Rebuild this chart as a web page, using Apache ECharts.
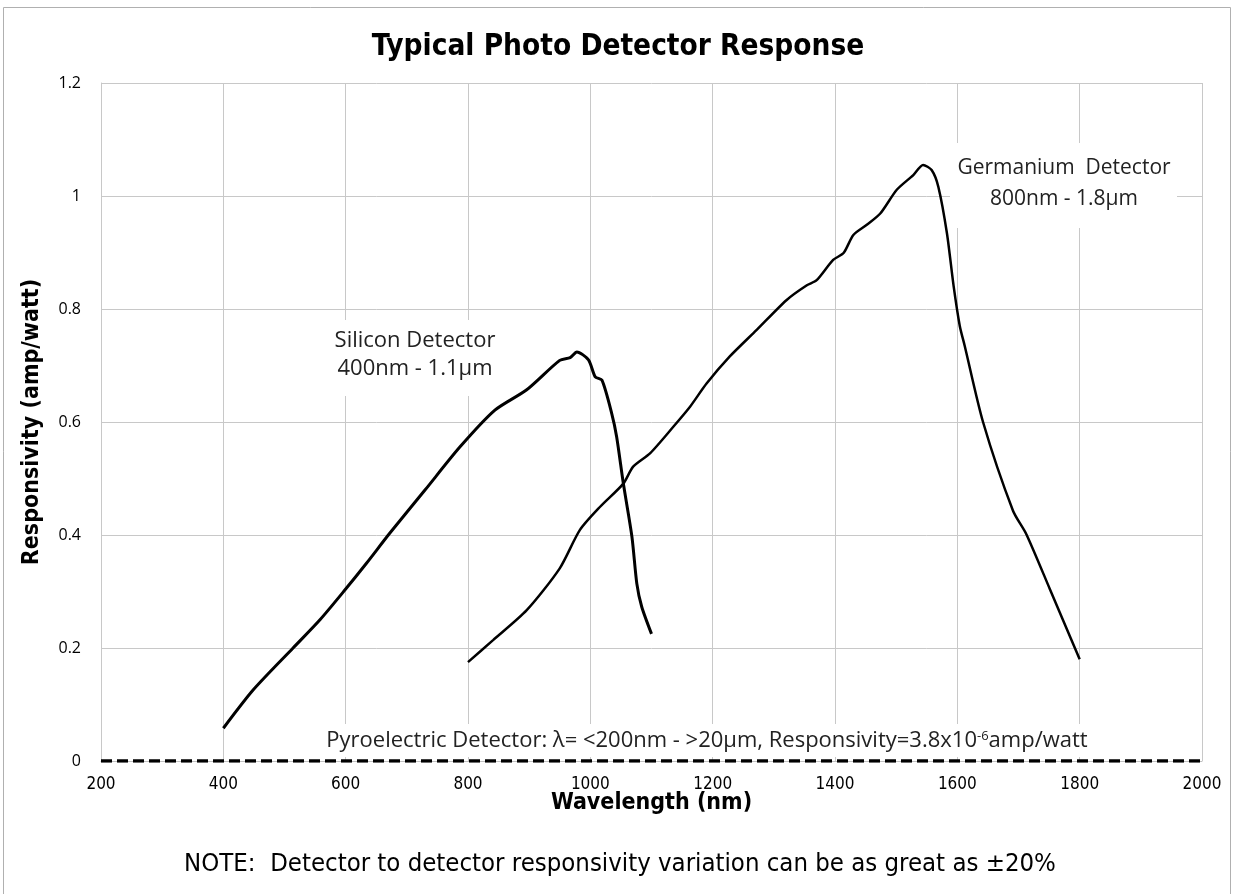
<!DOCTYPE html>
<html>
<head>
<meta charset="utf-8">
<script src="https://cdn.jsdelivr.net/npm/echarts@6/dist/echarts.min.js"></script>
<style>
  html, body { margin: 0; padding: 0; background: #fff; }
  #chart { width: 1236px; height: 894px; }
</style>
</head>
<body>
<div id="chart"></div>
<script>
// Wavelength (nm) and responsivity (amp/watt) for each detector type
const siliconWavelength = [400, 449, 514, 558, 599, 634, 672, 730, 787, 844, 896, 950, 967, 978, 997, 1008, 1019, 1035, 1043, 1054, 1068, 1076, 1084, 1100];
const siliconResponse   = [0.058, 0.126, 0.200, 0.250, 0.303, 0.350, 0.403, 0.480, 0.556, 0.621, 0.657, 0.709, 0.714, 0.724, 0.710, 0.680, 0.674, 0.615, 0.574, 0.491, 0.397, 0.314, 0.273, 0.225];

const germaniumWavelength = [800, 841, 896, 950, 983, 1016, 1054, 1070, 1098, 1136, 1163, 1190, 1228, 1272, 1321, 1354, 1370, 1397, 1414, 1430, 1452, 1474, 1501, 1528, 1544, 1558, 1569, 1583, 1594, 1604, 1612, 1642, 1691, 1713, 1751, 1800];
const germaniumResponse   = [0.175, 0.214, 0.267, 0.341, 0.409, 0.450, 0.491, 0.521, 0.545, 0.592, 0.627, 0.668, 0.716, 0.763, 0.816, 0.842, 0.851, 0.887, 0.899, 0.931, 0.949, 0.969, 1.011, 1.037, 1.055, 1.046, 1.016, 0.934, 0.840, 0.770, 0.735, 0.600, 0.443, 0.401, 0.305, 0.180];

// Pyroelectric responsivity is effectively zero on this scale
const pyroWavelength = [200, 2000];
const pyroResponse   = [0, 0];

const xTicks = [200, 400, 600, 800, 1000, 1200, 1400, 1600, 1800, 2000];
const yTicks = [0, 0.2, 0.4, 0.6, 0.8, 1, 1.2];

const zip = (xs, ys) => xs.map((x, i) => [x, ys[i]]);

const condensed = "'Liberation Sans Narrow', 'DejaVu Sans Condensed', 'Liberation Sans', sans-serif";
const body = "'Open Sans', 'Noto Sans', sans-serif";

const chart = echarts.init(document.getElementById('chart'), null, { renderer: 'canvas' });

chart.setOption({
  backgroundColor: '#ffffff',
  animation: false,
  title: {
    text: 'Typical Photo Detector Response',
    left: 'center',
    top: 27,
    textStyle: { fontFamily: condensed, fontWeight: 'bold', fontSize: 29.5, color: '#000' }
  },
  grid: { left: 101, right: 34, top: 83, bottom: 133, containLabel: false },
  xAxis: {
    type: 'value',
    min: xTicks[0],
    max: xTicks[xTicks.length - 1],
    interval: xTicks[1] - xTicks[0],
    name: 'Wavelength (nm)',
    nameLocation: 'middle',
    nameGap: 31,
    nameMoveOverlap: false,
    nameTextStyle: { fontFamily: condensed, fontWeight: 'bold', fontSize: 23, color: '#000' },
    axisLine: { show: true, lineStyle: { color: '#bfbfbf', width: 1 } },
    axisTick: { show: false },
    axisLabel: { margin: 15, fontFamily: condensed, fontSize: 17, color: '#000', formatter: v => String(v) },
    splitLine: { show: true, lineStyle: { color: '#c8c8c8', width: 1 } }
  },
  yAxis: {
    type: 'value',
    min: yTicks[0],
    max: yTicks[yTicks.length - 1],
    interval: 0.2,
    name: 'Responsivity (amp/watt)',
    nameLocation: 'middle',
    nameGap: 57,
    nameTextStyle: { fontFamily: condensed, fontWeight: 'bold', fontSize: 23, color: '#000' },
    axisLine: { show: true, lineStyle: { color: '#c8c8c8', width: 1 } },
    axisTick: { show: false },
    axisLabel: { margin: 20, fontFamily: body, fontSize: 16, color: '#000',
      formatter: v => (Math.round(v * 10) / 10).toString() },
    splitLine: { show: true, lineStyle: { color: '#c8c8c8', width: 1 } }
  },
  series: [
    {
      name: 'Silicon Detector',
      type: 'line',
      data: zip(siliconWavelength, siliconResponse),
      showSymbol: false,
      smooth: 0.25,
      lineStyle: { color: '#000', width: 3 },
      z: 3
    },
    {
      name: 'Germanium Detector',
      type: 'line',
      data: zip(germaniumWavelength, germaniumResponse),
      showSymbol: false,
      smooth: 0.25,
      lineStyle: { color: '#000', width: 2.5 },
      z: 3
    },
    {
      name: 'Pyroelectric Detector',
      type: 'line',
      data: zip(pyroWavelength, pyroResponse),
      showSymbol: false,
      lineStyle: { color: '#000', width: 3.5, type: [11, 5] },
      z: 4
    }
  ],
  graphic: [
    // outer frame
    { type: 'rect', shape: { x: 3.5, y: 7.5, width: 1227, height: 900 }, style: { fill: 'none', stroke: '#b0b0b0', lineWidth: 1 }, z: 0, silent: true },
    // annotation boxes
    { type: 'rect', shape: { x: 326, y: 320, width: 178, height: 76 }, style: { fill: '#fff' }, z: 1, silent: true },
    { type: 'text', x: 415, y: 341, style: { text: 'Silicon Detector', font: '22px ' + body, fill: '#222', textAlign: 'center', textVerticalAlign: 'middle' }, z: 5 },
    { type: 'text', x: 415, y: 369, style: { text: '400nm - 1.1\u00b5m', font: '22px ' + body, fill: '#222', textAlign: 'center', textVerticalAlign: 'middle' }, z: 5 },

    { type: 'rect', shape: { x: 950, y: 143, width: 227, height: 85 }, style: { fill: '#fff' }, z: 1, silent: true },
    { type: 'text', x: 1064, y: 168, style: { text: 'Germanium  Detector', font: '21px ' + body, fill: '#222', textAlign: 'center', textVerticalAlign: 'middle' }, z: 5 },
    { type: 'text', x: 1064, y: 199, style: { text: '800nm - 1.8\u00b5m', font: '21px ' + body, fill: '#222', textAlign: 'center', textVerticalAlign: 'middle' }, z: 5 },

    { type: 'rect', shape: { x: 318, y: 724, width: 776, height: 33 }, style: { fill: '#fff' }, z: 1, silent: true },
    { type: 'text', x: 707, y: 741, style: {
        rich: { n: { font: '22px ' + body, fill: '#222' }, s: { font: '13px ' + body, fill: '#222', verticalAlign: 'top', padding: [0, 0, 10, 0] } },
        text: '{n|Pyroelectric Detector: \u03bb= <200nm - >20\u00b5m, Responsivity=3.8x10}{s|-6}{n|amp/watt}',
        textAlign: 'center', textVerticalAlign: 'middle' }, z: 5 },

    { type: 'text', x: 620, y: 864, style: { text: 'NOTE:  Detector to detector responsivity variation can be as great as \u00b120%', font: '25.5px ' + condensed, fill: '#000', textAlign: 'center', textVerticalAlign: 'middle' }, z: 5 }
  ]
});
</script>
</body>
</html>
